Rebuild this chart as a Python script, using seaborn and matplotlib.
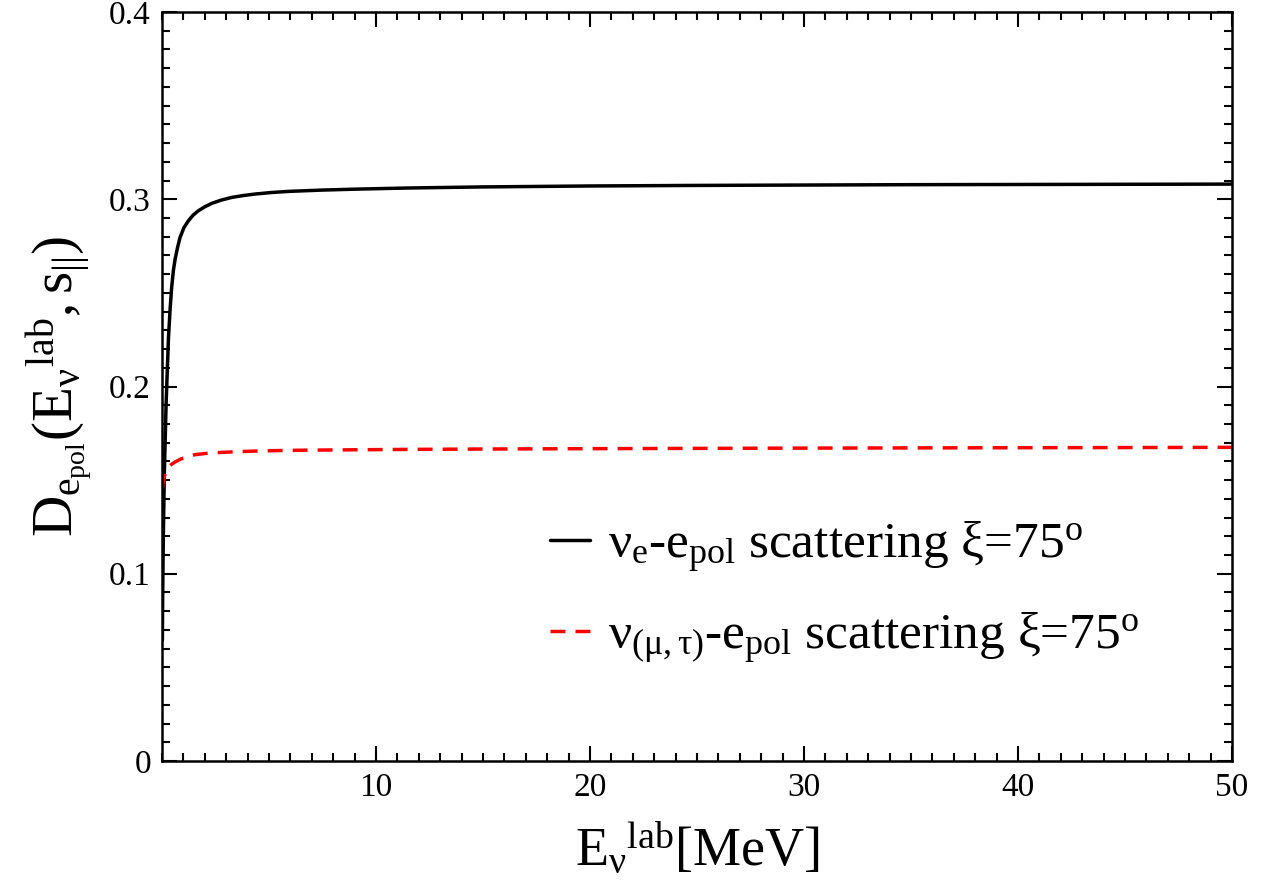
import numpy as np
import pandas as pd
import matplotlib
matplotlib.use("Agg")
import matplotlib.pyplot as plt
import seaborn as sns
from matplotlib.ticker import MultipleLocator

# Data
energy_e = [0.015, 0.03, 0.06, 0.11, 0.19, 0.30, 0.38, 0.45, 0.53, 0.61, 0.72, 0.84, 1.02, 1.23, 1.45, 1.70, 2.0, 2.32, 2.75, 3.26, 3.8, 4.35, 5.1, 5.9, 7.46, 9.0, 11.4, 15.0, 20.0, 25.0, 30.0, 35.0, 40.0, 45.0, 50.0]
d_e = [0.0645, 0.090, 0.120, 0.155, 0.191, 0.226, 0.242, 0.253, 0.262, 0.268, 0.274, 0.2796, 0.2848, 0.2885, 0.2915, 0.2939, 0.296, 0.2978, 0.2995, 0.3010, 0.3020, 0.3028, 0.3036, 0.3042, 0.3049, 0.3054, 0.3060, 0.3066, 0.3071, 0.3074, 0.3076, 0.3078, 0.3079, 0.3080, 0.3081]

energy_mu = [0.015, 0.05, 0.14, 0.3, 0.45, 0.61, 0.9, 1.23, 1.54, 2.24, 2.79, 3.5, 4.35, 5.5, 6.7, 9.0, 11.4, 15.0, 20.0, 30.0, 40.0, 50.0]
d_mu = [0.1455, 0.149, 0.1535, 0.1568, 0.1585, 0.1597, 0.1614, 0.1627, 0.1636, 0.1645, 0.1648, 0.1652, 0.1655, 0.1658, 0.1660, 0.1662, 0.1664, 0.1666, 0.1668, 0.1671, 0.1673, 0.1675]

labels = [r"$\nu_{e}$-$e_{pol}$ scattering $\xi$=75$^{o}$",
          r"$\nu_{(\mu,\tau)}$-$e_{pol}$ scattering $\xi$=75$^{o}$"]

sns.set_theme(style="ticks")
plt.rcParams["font.family"] = ["Liberation Serif", "DejaVu Serif"]
plt.rcParams["mathtext.fontset"] = "custom"
plt.rcParams["mathtext.rm"] = "Liberation Serif"
plt.rcParams["mathtext.it"] = "Liberation Serif"
plt.rcParams["mathtext.bf"] = "Liberation Serif:bold"
plt.rcParams["mathtext.sf"] = "Liberation Serif"
plt.rcParams["text.color"] = "black"
plt.rcParams["axes.labelcolor"] = "black"
plt.rcParams["xtick.color"] = "black"
plt.rcParams["ytick.color"] = "black"

fig = plt.figure(figsize=(12.68, 8.92), dpi=100)
ax = fig.add_axes([0.1278, 0.1469, 0.8438, 0.8396])

df_e = pd.DataFrame({"E": energy_e, "D": d_e})
df_mu = pd.DataFrame({"E": energy_mu, "D": d_mu})

sns.lineplot(data=df_e, x="E", y="D", ax=ax, color="black", lw=2.5, label=labels[0])
sns.lineplot(data=df_mu, x="E", y="D", ax=ax, color="#ff0000", lw=2.5, label=labels[1])
ax.lines[1].set_dashes([4.3, 2.9])
ax.lines[0].set_solid_joinstyle("round")

ax.set_xlim(0, 50)
ax.set_ylim(0, 0.4)
ax.xaxis.set_minor_locator(MultipleLocator(1))
ax.yaxis.set_minor_locator(MultipleLocator(0.01))
ax.set_xticks([10, 20, 30, 40, 50])
ax.set_yticks([0, 0.1, 0.2, 0.3, 0.4])
ax.set_yticklabels(["0", "0.1", "0.2", "0.3", "0.4"])

ax.tick_params(which="both", direction="in", top=True, right=True, width=1.5,
               colors="black", labelsize=24, pad=8)
ax.tick_params(which="major", length=11)
ax.tick_params(which="minor", length=6)
for s in ax.spines.values():
    s.set_linewidth(1.8)
    s.set_color("black")

ax.set_xlabel(r"$E_{\nu}{}^{lab}$[MeV]", fontsize=39, labelpad=14)
ax.set_ylabel(r"$D_{e_{pol}}(E_{\nu}{}^{lab},s_{||})$", fontsize=41, labelpad=10)

leg = ax.legend(loc="upper left", bbox_to_anchor=(0.343, 0.35), frameon=False,
                fontsize=37, handlelength=0.78, handletextpad=0.35, labelspacing=0.7,
                borderaxespad=0)
for t in leg.get_texts():
    t.set_color("black")

fig.savefig("out.png", dpi=100)
